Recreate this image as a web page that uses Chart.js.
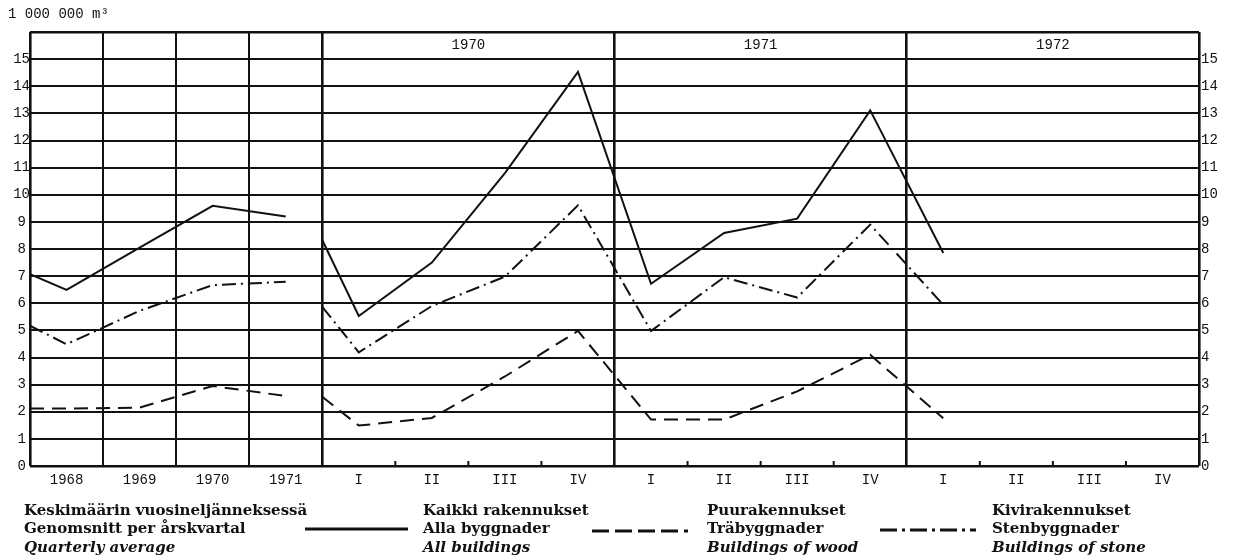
<!DOCTYPE html>
<html lang="fi">
<head>
    <meta charset="UTF-8">
    <title>Rakennukset 1968-1972</title>
    <script src="https://cdn.jsdelivr.net/npm/chart.js"></script>
    <style>
        body { margin: 0; background: #fff; }
        #wrap { position: relative; width: 1236px; height: 557px; }
        .leg { position: absolute; top: 501px; font-family: "DejaVu Serif", serif; font-weight: bold;
               font-size: 15px; line-height: 18.3px; color: #111; white-space: nowrap; }
        .leg i { display: block; }
    </style>
</head>
<body>
<div id="wrap">
    <canvas id="chart" width="1236" height="557"></canvas>
    <div class="leg" style="left:24px">Keskimäärin vuosineljänneksessä<br>Genomsnitt per årskvartal<i>Quarterly average</i></div>
    <div class="leg" style="left:423px">Kaikki rakennukset<br>Alla byggnader<i>All buildings</i></div>
    <div class="leg" style="left:707px">Puurakennukset<br>Träbyggnader<i>Buildings of wood</i></div>
    <div class="leg" style="left:992px">Kivirakennukset<br>Stenbyggnader<i>Buildings of stone</i></div>
</div>

<script>
    // x tick labels: 4 annual columns, then quarters for 1970, 1971, 1972
    const annualLabels = ['1968', '1969', '1970', '1971'];
    const quarterLabels = ['I', 'II', 'III', 'IV'];
    const panelYears = ['1970', '1971', '1972'];
    const unitLabel = '1 000 000 m³';

    // first value = where the line enters at the panel's left edge
    const allAnnual   = [7.07, 6.49, 8.05, 9.59, 9.2];
    const woodAnnual  = [2.12, 2.12, 2.15, 2.95, 2.58];
    const stoneAnnual = [5.17, 4.49, 5.72, 6.67, 6.79];

    const allQuarterly   = [8.33, 5.53, 7.5, 10.8, 14.53, 6.72, 8.59, 9.12, 13.11, 7.85];
    const woodQuarterly  = [2.55, 1.49, 1.77, 3.3, 4.98, 1.71, 1.71, 2.75, 4.1, 1.76];
    const stoneQuarterly = [5.87, 4.19, 5.9, 6.98, 9.61, 4.98, 6.96, 6.21, 8.9, 5.94];

    const tickLabels = annualLabels.concat(quarterLabels, quarterLabels, quarterLabels);
    const nCols = tickLabels.length;
    const ink = '#111';
    const monoFont = { family: 'Liberation Mono', size: 14 };

    function toPoints(annual, quarterly) {
        const pts = annual.map((v, i) => ({ x: i === 0 ? 0 : i - 0.5, y: v }));
        pts.push({ x: annualLabels.length - 0.25, y: null });
        quarterly.forEach((v, i) => pts.push({ x: annualLabels.length + (i === 0 ? 0 : i - 0.5), y: v }));
        return pts;
    }

    const series = [
        { label: 'Kaikki rakennukset', data: toPoints(allAnnual, allQuarterly), dash: [] },
        { label: 'Puurakennukset', data: toPoints(woodAnnual, woodQuarterly), dash: [14, 8] },
        { label: 'Kivirakennukset', data: toPoints(stoneAnnual, stoneQuarterly), dash: [14, 5, 2, 5] }
    ];

    const isPanelEdge = v => v <= annualLabels.length || (v - annualLabels.length) % 4 === 0;

    const extras = {
        id: 'extras',
        afterDraw(chart) {
            const c = chart.ctx;
            const xs = chart.scales.x, ys = chart.scales.y;
            c.save();
            c.fillStyle = ink;
            c.strokeStyle = ink;
            c.font = '14px "Liberation Mono"';
            c.textBaseline = 'middle';
            c.fillText(unitLabel, 8, 14);

            // year headings in the top row
            c.textAlign = 'center';
            panelYears.forEach((yr, i) => {
                c.fillText(yr, xs.getPixelForValue(annualLabels.length + 4 * i + 2), ys.getPixelForValue(15.5));
            });

            // small quarter tick marks on the base line
            c.lineWidth = 2;
            for (let v = annualLabels.length + 1; v < nCols; v++) {
                if (isPanelEdge(v)) continue;
                const px = xs.getPixelForValue(v);
                c.beginPath();
                c.moveTo(px, ys.bottom);
                c.lineTo(px, ys.bottom - 5);
                c.stroke();
            }

            // legend line samples
            const samples = [[305, 408, 529], [592, 688, 531], [880, 976, 530]];
            const sampleDash = [[], [17, 6], [17, 5, 3, 5]];
            c.lineWidth = 3;
            samples.forEach((s, i) => {
                c.setLineDash(sampleDash[i]);
                c.beginPath();
                c.moveTo(s[0], s[2]);
                c.lineTo(s[1], s[2]);
                c.stroke();
            });
            c.restore();
        }
    };

    new Chart(document.getElementById('chart'), {
        type: 'line',
        data: {
            datasets: series.map(s => ({
                label: s.label,
                data: s.data,
                borderColor: ink,
                borderWidth: 2,
                borderDash: s.dash,
                pointRadius: 0,
                tension: 0,
                fill: false,
                spanGaps: false
            }))
        },
        options: {
            responsive: false,
            animation: false,
            layout: { padding: { top: 32 } },
            plugins: { legend: { display: false }, tooltip: { enabled: false } },
            scales: {
                x: {
                    type: 'linear', min: 0, max: nCols, position: 'bottom',
                    afterBuildTicks: s => { s.ticks = tickLabels.map((_, i) => ({ value: i + 0.5 })); },
                    ticks: { callback: (v, i) => tickLabels[i], font: monoFont, color: ink, padding: 6,
                             maxRotation: 0, autoSkip: false },
                    grid: { display: false, drawTicks: false },
                    border: { display: false },
                    afterFit: s => { s.height = 91; }
                },
                xg: {
                    type: 'linear', min: 0, max: nCols, position: 'top',
                    ticks: { display: false, stepSize: 1 },
                    grid: {
                        drawTicks: false,
                        color: ctx => isPanelEdge(ctx.tick.value) ? ink : 'rgba(0,0,0,0)',
                        lineWidth: ctx => (ctx.tick.value % 4 === 0) ? 2.6 : 2
                    },
                    border: { display: false },
                    afterFit: s => { s.height = 0; }
                },
                y: {
                    min: 0, max: 16, position: 'left',
                    ticks: { stepSize: 1, callback: v => v < 16 ? v : '', font: monoFont, color: ink,
                             crossAlign: 'center', padding: 0 },
                    grid: { color: ink, lineWidth: ctx => (ctx.tick.value === 0 || ctx.tick.value === 16) ? 2.6 : 2,
                            drawTicks: false },
                    border: { display: false },
                    afterFit: s => { s.width = 30; }
                },
                y2: {
                    min: 0, max: 16, position: 'right',
                    ticks: { stepSize: 1, callback: v => v < 16 ? v : '', font: monoFont, color: ink, padding: 2 },
                    grid: { display: false, drawTicks: false },
                    border: { display: false },
                    afterFit: s => { s.width = 37; }
                }
            }
        },
        plugins: [extras]
    });
</script>
</body>
</html>
